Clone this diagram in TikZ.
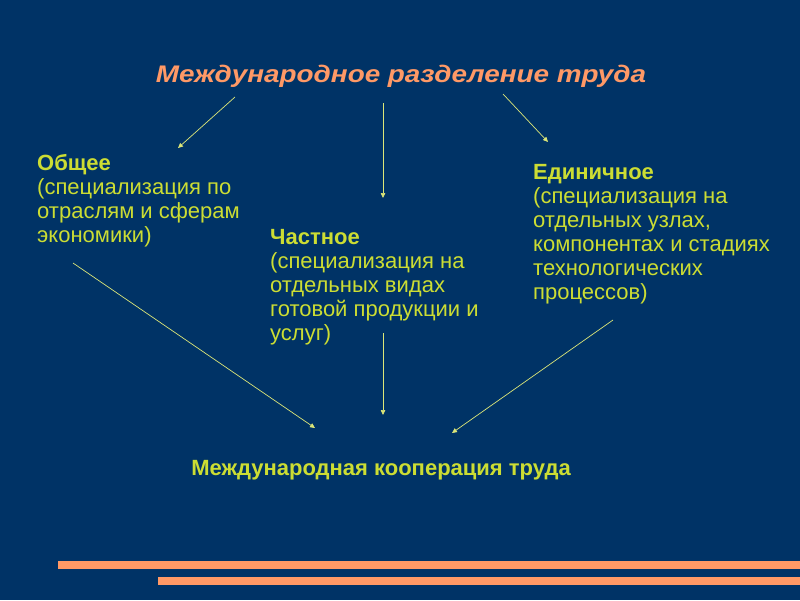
\documentclass[tikz,border=0pt]{standalone}
\usepackage{fontspec}
\setmainfont{Liberation Sans}
\newfontfamily\titlefont{Liberation Sans}[FakeStretch=1.16]
\usetikzlibrary{arrows.meta}
\definecolor{bg}{RGB}{0,51,102}
\definecolor{salmon}{RGB}{255,153,102}
\definecolor{ygreen}{RGB}{204,221,51}
\definecolor{arrowc}{RGB}{220,230,120}
\tikzset{
  blocktext/.style={inner sep=0pt, anchor=north west, align=left, text=ygreen,
    font=\fontsize{22}{24}\selectfont},
  conn/.style={draw=arrowc, line width=0.7pt, -{Triangle[length=5pt,width=4.5pt]}},
  band/.style={fill=salmon, draw=none}
}
\begin{document}
\begin{tikzpicture}[x=1pt,y=-1pt]
\fill[bg] (0,0) rectangle (800,600);
\useasboundingbox (0,0) rectangle (800,600);

\node[inner sep=0pt, anchor=base, text=salmon, font=\titlefont\fontsize{24}{28}\selectfont\bfseries\itshape] (title) at (401,82) {Международное разделение труда};

\node[blocktext] (general) at (37,154) {\textbf{Общее}\\(специализация по\\отраслям и сферам\\экономики)};
\node[blocktext] (partial) at (270,229) {\textbf{Частное}\\(специализация на\\отдельных видах\\готовой продукции и\\услуг)};
\node[blocktext] (single) at (533,164) {\textbf{Единичное}\\(специализация на\\отдельных узлах,\\компонентах и стадиях\\технологических\\процессов)};

\node[inner sep=0pt, anchor=base, text=ygreen, font=\fontsize{22}{26}\selectfont\bfseries] (coop) at (381,475) {Международная кооперация труда};

\coordinate (a1s) at (235,97);  \coordinate (a1e) at (178,148);
\coordinate (a2s) at (383,103); \coordinate (a2e) at (383,198);
\coordinate (a3s) at (503,94);  \coordinate (a3e) at (548,142);
\coordinate (a4s) at (73,263);  \coordinate (a4e) at (315,428);
\coordinate (a5s) at (383,333); \coordinate (a5e) at (383,415);
\coordinate (a6s) at (613,320); \coordinate (a6e) at (452,433);
\draw[conn] (a1s) -- (a1e);
\draw[conn] (a2s) -- (a2e);
\draw[conn] (a3s) -- (a3e);
\draw[conn] (a4s) -- (a4e);
\draw[conn] (a5s) -- (a5e);
\draw[conn] (a6s) -- (a6e);

\fill[band] (58,561) rectangle (800,569);
\fill[band] (158,577) rectangle (800,585);
\end{tikzpicture}
\end{document}
